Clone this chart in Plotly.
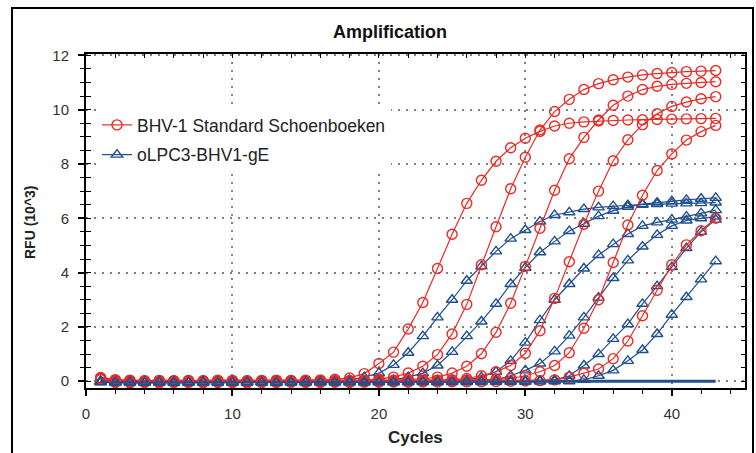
import plotly.graph_objects as go

cycles = list(range(1, 44))

# BHV-1 Standard Schoenboeken (red, circles)
std_a = [0.14,0.06,0.04,0.02,0.03,0.02,0.03,0.02,0.04,0.03,0.02,0.03,0.04,0.03,0.04,0.05,0.07,
         0.12,0.28,0.65,1.07,1.92,2.90,4.15,5.41,6.55,7.40,8.10,8.60,8.95,9.20,9.40,9.50,9.55,9.58,
         9.60,9.62,9.63,9.64,9.65,9.66,9.67,9.68]
std_b = [0.10,0.01,-0.03,-0.02,-0.01,-0.02,-0.01,-0.03,-0.02,-0.01,-0.02,-0.01,-0.02,-0.01,0.0,-0.01,0.0,0.01,0.03,0.08,
         0.15,0.30,0.55,0.98,1.74,2.83,4.29,5.69,7.09,8.25,9.25,9.93,10.38,10.74,10.96,11.10,11.20,11.28,11.33,
         11.37,11.40,11.42,11.44]
std_c = [0.08,0.03,0.02,0.01,0.02,0.01,0.02,0.01,0.02,0.02,0.01,0.02,0.01,0.02,0.02,0.01,0.02,0.02,0.03,0.03,0.04,0.06,0.09,
         0.15,0.30,0.55,1.01,1.80,2.87,4.23,5.63,7.03,8.19,8.98,9.62,10.16,10.50,10.74,10.86,10.93,10.97,11.00,11.03]
std_d = [0.12,-0.02,-0.04,-0.03,-0.04,-0.03,-0.04,-0.03,-0.03,-0.04,-0.03,-0.03,-0.04,-0.03,-0.02,-0.03,-0.02,-0.02,-0.01,0.0,
         0.0,0.01,0.02,0.04,0.06,
         0.10,0.20,0.35,0.58,1.03,1.86,3.05,4.40,5.78,7.00,8.12,8.89,9.45,9.85,10.12,10.28,10.40,10.48]
std_e = [0.06,0.02,0.0,0.01,0.0,0.01,0.0,0.01,0.0,0.0,0.01,0.0,0.01,0.0,0.0,0.01,0.0,0.01,0.0,0.01,0.01,0.02,0.02,0.03,
         0.03,0.04,0.05,0.07,
         0.10,0.20,0.35,0.58,1.05,1.95,3.00,4.37,5.75,6.85,7.76,8.37,8.88,9.19,9.42]
std_f = [0.10,-0.05,-0.06,-0.05,-0.06,-0.05,-0.05,-0.06,-0.05,-0.05,-0.06,-0.05,-0.05,-0.04,-0.05,-0.05,-0.04,-0.05,-0.04,
         -0.04,-0.03,-0.04,-0.03,-0.03,-0.02,-0.02,-0.02,-0.01,0.0,0.01,
         0.02,0.05,0.15,0.29,0.45,0.83,1.48,2.41,3.35,4.29,5.02,5.54,6.00]

# oLPC3-BHV1-gE (blue, triangles)
ge_1 = [-0.02,-0.04,-0.03,-0.04,-0.03,-0.04,-0.03,-0.03,-0.04,-0.03,-0.03,-0.03,-0.02,-0.02,-0.02,-0.01,
        0.0,0.05,0.15,0.30,0.60,1.05,1.66,2.35,3.00,3.70,4.23,4.78,5.25,5.57,5.88,6.12,6.22,6.34,6.40,6.45,
        6.48,6.50,6.52,6.54,6.55,6.56,6.58]
ge_2 = [-0.01,-0.03,-0.04,-0.03,-0.03,-0.04,-0.03,-0.04,-0.03,-0.03,-0.04,-0.03,-0.03,-0.03,-0.02,-0.03,-0.02,-0.02,-0.01,0.0,
        0.05,0.15,0.30,0.58,1.08,1.66,2.20,2.85,3.58,4.18,4.75,5.15,5.53,5.80,6.08,6.28,6.42,6.52,6.58,6.63,
        6.68,6.72,6.75]
ge_3 = [0.0,-0.02,-0.03,-0.02,-0.03,-0.02,-0.03,-0.02,-0.02,-0.03,-0.02,-0.02,-0.03,-0.02,-0.02,-0.02,-0.01,-0.02,-0.01,
        -0.01,0.0,-0.01,0.0,0.01,0.02,
        0.05,0.15,0.35,0.75,1.42,2.25,3.00,3.58,4.15,4.65,5.05,5.42,5.72,5.85,5.95,6.06,6.18,6.30]
ge_4 = [-0.03,-0.05,-0.05,-0.04,-0.05,-0.05,-0.04,-0.05,-0.04,-0.05,-0.04,-0.04,-0.05,-0.04,-0.04,-0.04,-0.03,-0.04,-0.03,
        -0.03,-0.03,-0.02,-0.02,-0.02,-0.01,-0.01,0.0,
        0.05,0.20,0.40,0.65,1.10,1.68,2.35,3.08,3.80,4.45,4.96,5.39,5.72,5.92,6.00,6.06]
ge_5 = [0.0,-0.02,-0.02,-0.03,-0.02,-0.02,-0.03,-0.02,-0.02,-0.02,-0.03,-0.02,-0.02,-0.02,-0.02,-0.01,-0.02,-0.01,-0.02,
        -0.01,-0.01,-0.01,-0.01,0.0,-0.01,0.0,0.0,0.0,0.01,0.01,0.02,
        0.05,0.20,0.58,1.00,1.56,2.10,2.85,3.50,4.20,4.90,5.50,5.95]
ge_6 = [-0.04,-0.06,-0.05,-0.06,-0.05,-0.06,-0.05,-0.05,-0.06,-0.05,-0.05,-0.05,-0.06,-0.05,-0.05,-0.04,-0.05,-0.04,-0.05,
        -0.04,-0.04,-0.04,-0.03,-0.04,-0.03,-0.03,-0.03,-0.02,-0.02,-0.02,-0.01,0.0,
        0.0,0.05,0.20,0.40,0.75,1.15,1.74,2.45,3.10,3.75,4.42]
neg_ctrl = [0.0,0.0,0.0,0.0,0.0,0.0,0.0,0.0,0.0,0.0,0.0,0.0,0.0,0.0,0.0,0.0,0.0,0.0,0.0,0.0,0.0,0.0,
            0.0,0.0,0.0,0.0,0.0,0.0,0.0,0.0,0.0,0.0,0.0,0.0,0.0,0.0,0.0,0.0,0.0,0.0,0.0,0.0,0.0]

std_series = [std_a, std_b, std_c, std_d, std_e, std_f]
ge_series = [ge_1, ge_2, ge_3, ge_4, ge_5, ge_6]
std_name = "BHV-1 Standard Schoenboeken"
ge_name = "oLPC3-BHV1-gE"

RED = "#ea2b25"
BLUE = "#1f4f8f"
FONT = "Liberation Sans, Arial, sans-serif"

fig = go.Figure()

fig.add_trace(go.Scatter(x=cycles, y=neg_ctrl, mode="lines", line=dict(color=BLUE, width=3),
                         showlegend=False, hoverinfo="skip"))

for i in range(6):
    fig.add_trace(go.Scatter(
        x=cycles, y=std_series[i], mode="lines+markers", name=std_name,
        legendgroup="std", showlegend=(i == 0),
        line=dict(color=RED, width=1.2),
        marker=dict(symbol="circle-open", size=10, color=RED, line=dict(width=1.4, color=RED)),
    ))
    fig.add_trace(go.Scatter(
        x=cycles, y=ge_series[i], mode="lines+markers", name=ge_name,
        legendgroup="ge", showlegend=(i == 0),
        line=dict(color=BLUE, width=1.2),
        marker=dict(symbol="triangle-up-open", size=10, color=BLUE, line=dict(width=1.4, color=BLUE)),
    ))

# dummy traces to activate mirror axes
fig.add_trace(go.Scatter(x=[None], y=[None], xaxis="x2", yaxis="y2", showlegend=False, hoverinfo="skip"))
fig.add_trace(go.Scatter(x=[None], y=[None], xaxis="x", yaxis="y3", showlegend=False, hoverinfo="skip"))

XR = [0, 45]
YR = [-0.25, 12.05]
grid = dict(showgrid=True, gridcolor="#808080", gridwidth=1.5, griddash="2px,6px")

fig.update_layout(
    width=756, height=453,
    margin=dict(l=86, r=11, t=54, b=65),
    paper_bgcolor="white", plot_bgcolor="white",
    font=dict(family=FONT, color="#222"),
    title=dict(text="<b>Amplification</b>", font=dict(size=18, family=FONT, color="#111"),
               x=390/756, xref="container", xanchor="center",
               y=1-32/453, yref="container", yanchor="middle"),
    xaxis=dict(range=XR, tick0=0, dtick=10, ticks="outside", ticklen=6, tickwidth=1.5, tickcolor="black",
               showline=True, linecolor="black", linewidth=2, zeroline=False,
               tickfont=dict(size=15, color="#333"), ticklabelstandoff=5,
               minor=dict(dtick=2, ticks="outside", ticklen=4, tickcolor="black", tickwidth=1.2, showgrid=False),
               **grid),
    yaxis=dict(range=YR, tick0=0, dtick=2, ticks="outside", ticklen=6, tickwidth=1.5, tickcolor="black",
               showline=True, linecolor="black", linewidth=2, zeroline=False,
               tickfont=dict(size=15, color="#333"), ticklabelstandoff=6,
               minor=dict(dtick=0.5, ticks="outside", ticklen=4, tickcolor="black", tickwidth=1.2, showgrid=False),
               **grid),
    xaxis2=dict(range=XR, overlaying="x", side="top", anchor="y", tick0=0, dtick=2, ticks="inside",
                ticklen=4, tickcolor="black", showticklabels=False, showline=True, linecolor="black",
                linewidth=1.5, showgrid=False, zeroline=False),
    yaxis2=dict(range=YR, overlaying="y", side="right", anchor="x", tick0=0, dtick=0.5, ticks="inside",
                ticklen=4, tickcolor="black", showticklabels=False, showline=True, linecolor="black",
                linewidth=1.5, showgrid=False, zeroline=False),
    yaxis3=dict(range=YR, overlaying="y", side="left", anchor="x", tick0=0, dtick=0.5, ticks="inside",
                ticklen=5, tickcolor="black", showticklabels=False, showline=False,
                showgrid=False, zeroline=False),
    legend=dict(x=(97-86)/659, y=(388-107)/334, xanchor="left", yanchor="top",
                bgcolor="white", font=dict(size=17.5, family=FONT, color="#222"),
                traceorder="grouped", tracegroupgap=4, itemwidth=30),
    annotations=[
        dict(text="<b>RFU (10^3)</b>", textangle=-90, x=(30-86)/659, y=(388-222)/334,
             xanchor="center", yanchor="middle",
             xref="paper", yref="paper", showarrow=False, font=dict(size=14, color="#222")),
        dict(text="<b>Cycles</b>", x=(415-86)/659, y=(388-437)/334,
             xanchor="center", yanchor="middle",
             xref="paper", yref="paper", showarrow=False, font=dict(size=17, color="#222")),
    ],
    shapes=[dict(type="rect", xref="paper", yref="paper",
                 x0=(12-86)/659, x1=(753-86)/659, y0=(388-470)/334, y1=(388-8)/334,
                 line=dict(color="black", width=2), fillcolor="rgba(0,0,0,0)", layer="above")],
)

fig.write_html("out.html", config={"displayModeBar": False},
               post_script="document.body.style.margin='0px';document.body.style.overflow='hidden';")
